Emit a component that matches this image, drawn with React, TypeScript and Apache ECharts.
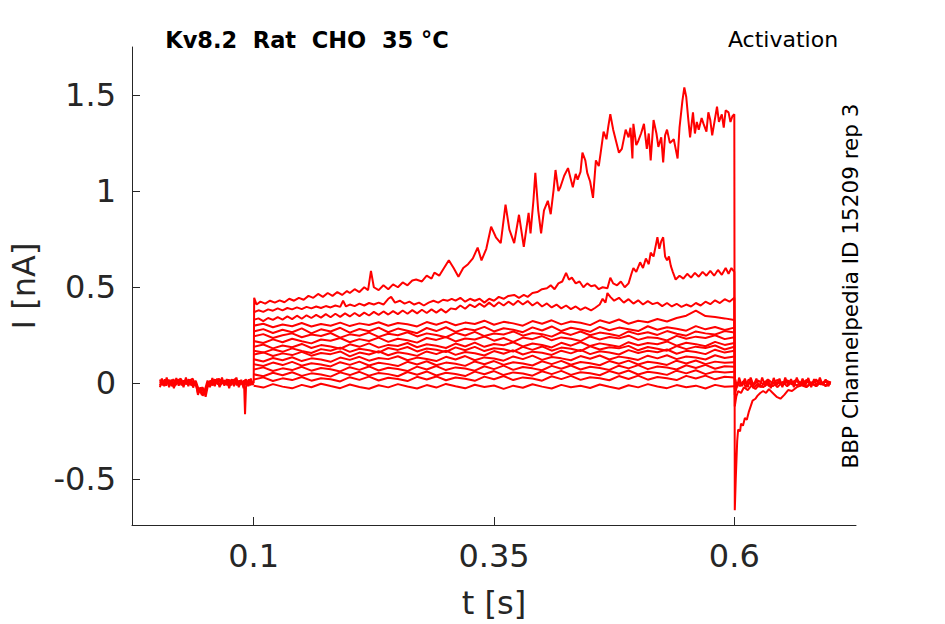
import { useEffect, useRef } from "react";
import * as echarts from "echarts";

// time grid (s) for the flat step traces
const stepTimes = [
  0.1, 0.11, 0.12, 0.13, 0.14, 0.15, 0.16, 0.17, 0.18, 0.19, 0.2, 0.21, 0.22, 0.23, 0.24, 0.25, 0.26,
  0.27, 0.28, 0.29, 0.3, 0.31, 0.32, 0.33, 0.34, 0.35, 0.36, 0.37, 0.38, 0.39, 0.4, 0.41, 0.42, 0.43,
  0.44, 0.45, 0.46, 0.47, 0.48, 0.49, 0.5, 0.51, 0.52, 0.53, 0.54, 0.55, 0.56, 0.57, 0.58, 0.59, 0.6,
];

const xTicks = [0.1, 0.35, 0.6];
const yTicks = [-0.5, 0, 0.5, 1, 1.5];

// holding period before the step (t, I in nA)
const pre1: [number, number][] = [
  [0.0025, 0.01], [0.005, -0.01], [0.0075, 0.02], [0.01, 0.0], [0.0125, 0.015], [0.015, -0.015],
  [0.0175, 0.01], [0.02, 0.02], [0.0225, -0.005], [0.025, 0.015], [0.0275, -0.01], [0.03, 0.01],
  [0.0325, 0.02], [0.035, -0.01], [0.0375, 0.005], [0.04, -0.01], [0.042, -0.05], [0.044, -0.03],
  [0.046, -0.06], [0.048, -0.04], [0.05, -0.07], [0.052, -0.02], [0.055, 0.01], [0.0575, -0.01],
  [0.06, 0.015], [0.0625, -0.005], [0.065, 0.02], [0.0675, 0.0], [0.07, 0.015], [0.0725, -0.01],
  [0.075, 0.01], [0.0775, 0.02], [0.08, -0.005], [0.0825, 0.015], [0.085, -0.01], [0.0875, 0.01],
  [0.09, 0.0], [0.091, -0.16], [0.092, -0.02], [0.094, 0.01], [0.0965, -0.01], [0.099, 0.01],
];
const pre2: [number, number][] = [
  [0.0025, -0.01], [0.005, 0.015], [0.0075, -0.005], [0.01, 0.02], [0.0125, -0.01], [0.015, 0.01],
  [0.0175, -0.015], [0.02, 0.005], [0.0225, 0.02], [0.025, -0.01], [0.0275, 0.015], [0.03, -0.005],
  [0.0325, 0.01], [0.035, 0.02], [0.0375, -0.01], [0.04, 0.01], [0.0425, -0.03], [0.045, -0.05],
  [0.0475, -0.025], [0.05, -0.045], [0.0525, -0.005], [0.055, 0.015], [0.0575, -0.005], [0.06, 0.02],
  [0.0625, 0.0], [0.065, -0.015], [0.0675, 0.015], [0.07, -0.005], [0.0725, 0.02], [0.075, -0.01],
  [0.0775, 0.005], [0.08, 0.02], [0.0825, -0.01], [0.085, 0.015], [0.0875, -0.005], [0.09, 0.015],
  [0.0925, -0.01], [0.095, 0.02], [0.0975, -0.005], [0.1, 0.0],
];
const pre3: [number, number][] = [
  [0.0025, 0.02], [0.004, -0.005], [0.0065, 0.012], [0.009, -0.012], [0.0115, 0.018], [0.014, 0.0],
  [0.0165, 0.022], [0.019, -0.008], [0.0215, 0.012], [0.024, 0.025], [0.0265, -0.005], [0.029, 0.018],
  [0.0315, 0.0], [0.034, 0.015], [0.0365, 0.025], [0.039, -0.005], [0.0415, -0.02], [0.044, -0.04],
  [0.0465, -0.02], [0.049, -0.05], [0.0515, -0.01], [0.054, 0.01], [0.0565, -0.01], [0.059, 0.02],
  [0.0615, 0.005], [0.064, 0.025], [0.0665, -0.005], [0.069, 0.015], [0.0715, 0.0], [0.074, 0.02],
  [0.0765, -0.01], [0.079, 0.015], [0.0815, 0.025], [0.084, -0.005], [0.0865, 0.012], [0.089, -0.01],
  [0.0915, 0.02], [0.094, 0.005], [0.0965, 0.018], [0.099, -0.005],
];
const pre4: [number, number][] = [
  [0.0025, -0.02], [0.0045, 0.025], [0.007, -0.015], [0.0095, 0.03], [0.012, -0.02], [0.0145, 0.02],
  [0.017, -0.025], [0.0195, 0.028], [0.022, -0.012], [0.0245, 0.022], [0.027, -0.02], [0.0295, 0.03],
  [0.032, -0.015], [0.0345, 0.02], [0.037, -0.022], [0.0395, 0.015], [0.042, -0.06], [0.0445, -0.02],
  [0.047, -0.065], [0.0495, -0.03], [0.052, 0.015], [0.0545, -0.02], [0.057, 0.028], [0.0595, -0.015],
  [0.062, 0.025], [0.0645, -0.02], [0.067, 0.03], [0.0695, -0.012], [0.072, 0.022], [0.0745, -0.025],
  [0.077, 0.02], [0.0795, -0.015], [0.082, 0.03], [0.0845, -0.02], [0.087, 0.018], [0.0895, -0.025],
  [0.092, 0.02], [0.0945, -0.015], [0.097, 0.025], [0.0995, -0.01],
];

// largest trace: slow activation up to ~1.4 nA
const traceA: [number, number][] = [
  [0.1, 0.0], [0.1005, 0.445], [0.103, 0.41], [0.107, 0.425], [0.112, 0.415], [0.117, 0.43],
  [0.122, 0.42], [0.127, 0.432], [0.132, 0.422], [0.137, 0.44], [0.142, 0.43], [0.147, 0.445],
  [0.152, 0.435], [0.157, 0.455], [0.162, 0.445], [0.167, 0.465], [0.172, 0.45], [0.177, 0.47],
  [0.182, 0.455], [0.187, 0.475], [0.192, 0.46], [0.197, 0.48], [0.2, 0.47], [0.205, 0.49],
  [0.21, 0.475], [0.215, 0.5], [0.219, 0.485], [0.222, 0.585], [0.225, 0.5], [0.23, 0.485],
  [0.235, 0.51], [0.24, 0.49], [0.245, 0.515], [0.25, 0.5], [0.255, 0.525], [0.26, 0.51],
  [0.265, 0.535], [0.269, 0.54], [0.275, 0.53], [0.28, 0.56], [0.285, 0.545], [0.288, 0.576],
  [0.293, 0.56], [0.298, 0.6], [0.303, 0.64], [0.308, 0.6], [0.313, 0.555], [0.318, 0.6],
  [0.323, 0.62], [0.328, 0.65], [0.333, 0.706], [0.337, 0.64], [0.342, 0.7], [0.347, 0.815],
  [0.352, 0.76], [0.357, 0.73], [0.362, 0.93], [0.366, 0.8], [0.371, 0.73], [0.376, 0.877],
  [0.381, 0.71], [0.386, 0.887], [0.388, 0.78], [0.391, 0.95], [0.393, 1.095], [0.396, 0.9],
  [0.399, 0.78], [0.402, 0.9], [0.406, 0.95], [0.409, 0.88], [0.412, 1.007], [0.414, 1.11],
  [0.417, 1.0], [0.419, 1.02], [0.423, 1.08], [0.427, 1.12], [0.43, 1.06], [0.432, 1.02],
  [0.435, 1.09], [0.437, 1.06], [0.44, 1.1], [0.442, 1.2], [0.445, 1.16], [0.447, 1.095],
  [0.45, 1.05], [0.453, 0.965], [0.456, 1.16], [0.459, 1.13], [0.461, 1.2], [0.464, 1.31],
  [0.467, 1.27], [0.469, 1.34], [0.471, 1.4], [0.474, 1.32], [0.477, 1.26], [0.48, 1.2],
  [0.483, 1.22], [0.487, 1.32], [0.49, 1.28], [0.492, 1.33], [0.494, 1.17], [0.495, 1.35],
  [0.498, 1.24], [0.5, 1.26], [0.503, 1.3], [0.506, 1.35], [0.509, 1.22], [0.511, 1.3],
  [0.513, 1.16], [0.516, 1.37], [0.519, 1.3], [0.521, 1.23], [0.524, 1.28], [0.526, 1.15],
  [0.528, 1.29], [0.53, 1.32], [0.533, 1.25], [0.537, 1.27], [0.539, 1.22], [0.541, 1.17],
  [0.543, 1.33], [0.546, 1.47], [0.548, 1.54], [0.55, 1.49], [0.552, 1.38], [0.554, 1.28],
  [0.557, 1.41], [0.559, 1.3], [0.561, 1.36], [0.563, 1.32], [0.566, 1.38], [0.568, 1.35],
  [0.571, 1.31], [0.573, 1.41], [0.575, 1.37], [0.577, 1.29], [0.58, 1.38], [0.582, 1.44],
  [0.584, 1.36], [0.587, 1.4], [0.589, 1.33], [0.591, 1.42], [0.594, 1.41], [0.596, 1.36],
  [0.598, 1.39], [0.6, 1.4],
];
const tailA: [number, number][] = [
  [0.6005, -0.66], [0.6015, -0.5], [0.603, -0.3], [0.604, -0.24], [0.606, -0.25], [0.607, -0.21],
  [0.609, -0.22], [0.611, -0.18], [0.613, -0.19], [0.615, -0.15], [0.617, -0.12], [0.619, -0.09],
  [0.622, -0.08], [0.624, -0.065], [0.627, -0.05], [0.63, -0.04], [0.633, -0.05], [0.636, -0.03],
  [0.64, -0.05], [0.644, -0.07], [0.648, -0.08], [0.652, -0.06], [0.656, -0.035], [0.66, -0.04],
  [0.665, -0.02], [0.67, -0.01], [0.675, -0.02], [0.68, 0.0], [0.685, -0.015], [0.69, 0.005],
  [0.695, -0.01], [0.7, 0.0],
];

// second trace with the bump near 0.52 s
const traceB: [number, number][] = [
  [0.1, 0.37], [0.105, 0.38], [0.11, 0.372], [0.115, 0.385], [0.12, 0.378], [0.125, 0.39],
  [0.13, 0.38], [0.135, 0.392], [0.14, 0.385], [0.145, 0.395], [0.15, 0.386], [0.155, 0.398],
  [0.16, 0.39], [0.165, 0.4], [0.17, 0.392], [0.175, 0.402], [0.18, 0.395], [0.185, 0.405],
  [0.19, 0.398], [0.193, 0.43], [0.196, 0.4], [0.2, 0.41], [0.205, 0.402], [0.21, 0.415],
  [0.215, 0.405], [0.22, 0.418], [0.225, 0.41], [0.23, 0.42], [0.235, 0.41], [0.24, 0.44],
  [0.243, 0.45], [0.247, 0.42], [0.252, 0.43], [0.257, 0.415], [0.262, 0.425], [0.267, 0.41],
  [0.272, 0.42], [0.277, 0.405], [0.282, 0.42], [0.287, 0.43], [0.292, 0.42], [0.297, 0.435],
  [0.302, 0.43], [0.306, 0.44], [0.31, 0.43], [0.315, 0.445], [0.32, 0.425], [0.325, 0.44],
  [0.33, 0.43], [0.335, 0.44], [0.34, 0.42], [0.345, 0.44], [0.35, 0.43], [0.355, 0.45],
  [0.36, 0.44], [0.365, 0.455], [0.371, 0.46], [0.376, 0.445], [0.381, 0.46], [0.385, 0.45],
  [0.39, 0.47], [0.395, 0.475], [0.4, 0.49], [0.405, 0.495], [0.409, 0.51], [0.413, 0.49],
  [0.417, 0.52], [0.421, 0.53], [0.425, 0.575], [0.428, 0.54], [0.431, 0.55], [0.435, 0.52],
  [0.439, 0.53], [0.443, 0.5], [0.447, 0.52], [0.451, 0.505], [0.455, 0.51], [0.459, 0.49],
  [0.463, 0.5], [0.468, 0.495], [0.471, 0.55], [0.474, 0.52], [0.478, 0.51], [0.482, 0.53],
  [0.486, 0.5], [0.49, 0.52], [0.493, 0.57], [0.495, 0.6], [0.498, 0.58], [0.502, 0.63],
  [0.505, 0.6], [0.508, 0.65], [0.511, 0.62], [0.513, 0.68], [0.516, 0.66], [0.518, 0.71],
  [0.52, 0.76], [0.522, 0.7], [0.524, 0.74], [0.526, 0.76], [0.528, 0.66], [0.53, 0.64],
  [0.532, 0.66], [0.534, 0.61], [0.536, 0.58], [0.539, 0.54], [0.543, 0.56], [0.547, 0.545],
  [0.551, 0.57], [0.555, 0.55], [0.559, 0.575], [0.563, 0.555], [0.567, 0.58], [0.571, 0.56],
  [0.575, 0.585], [0.579, 0.56], [0.583, 0.59], [0.587, 0.565], [0.591, 0.6], [0.594, 0.57],
  [0.597, 0.6], [0.6, 0.58],
];
const tailB: [number, number][] = [
  [0.6005, -0.12], [0.602, -0.07], [0.604, -0.04], [0.607, -0.05], [0.61, -0.02], [0.614, -0.035],
  [0.618, -0.01], [0.622, -0.03], [0.626, -0.005], [0.63, -0.02], [0.635, 0.0], [0.64, -0.015],
  [0.645, 0.005], [0.65, -0.01], [0.655, 0.01], [0.66, -0.005], [0.665, 0.012], [0.67, -0.008],
  [0.675, 0.01], [0.68, -0.005], [0.685, 0.012], [0.69, -0.006], [0.695, 0.008], [0.7, 0.0],
];

const traceC: [number, number][] = [
  [0.1, 0.33], [0.105, 0.338], [0.11, 0.324], [0.115, 0.34], [0.12, 0.33], [0.125, 0.345],
  [0.13, 0.332], [0.135, 0.348], [0.14, 0.334], [0.145, 0.352], [0.15, 0.336], [0.155, 0.354],
  [0.16, 0.34], [0.165, 0.356], [0.17, 0.342], [0.175, 0.36], [0.18, 0.344], [0.185, 0.362],
  [0.19, 0.346], [0.195, 0.364], [0.2, 0.348], [0.205, 0.366], [0.21, 0.35], [0.215, 0.368],
  [0.22, 0.353], [0.225, 0.372], [0.23, 0.356], [0.235, 0.374], [0.24, 0.358], [0.245, 0.376],
  [0.25, 0.36], [0.255, 0.379], [0.26, 0.362], [0.265, 0.381], [0.27, 0.364], [0.275, 0.383],
  [0.28, 0.366], [0.285, 0.385], [0.29, 0.368], [0.295, 0.386], [0.3, 0.368], [0.305, 0.39],
  [0.31, 0.385], [0.315, 0.405], [0.32, 0.388], [0.325, 0.41], [0.33, 0.396], [0.335, 0.415],
  [0.34, 0.398], [0.345, 0.42], [0.35, 0.4], [0.355, 0.422], [0.36, 0.405], [0.365, 0.425],
  [0.37, 0.408], [0.375, 0.43], [0.38, 0.41], [0.385, 0.428], [0.39, 0.405], [0.395, 0.422],
  [0.4, 0.4], [0.405, 0.416], [0.41, 0.395], [0.415, 0.41], [0.42, 0.39], [0.425, 0.405],
  [0.43, 0.386], [0.435, 0.4], [0.44, 0.382], [0.445, 0.395], [0.451, 0.38], [0.455, 0.392],
  [0.46, 0.41], [0.463, 0.44], [0.466, 0.42], [0.468, 0.47], [0.471, 0.45], [0.475, 0.43],
  [0.48, 0.445], [0.485, 0.42], [0.49, 0.438], [0.495, 0.415], [0.5, 0.432], [0.505, 0.41],
  [0.51, 0.428], [0.515, 0.412], [0.52, 0.42], [0.525, 0.402], [0.53, 0.418], [0.535, 0.4],
  [0.54, 0.414], [0.545, 0.398], [0.55, 0.41], [0.555, 0.4], [0.56, 0.418], [0.565, 0.405],
  [0.57, 0.425], [0.575, 0.412], [0.58, 0.432], [0.585, 0.418], [0.59, 0.438], [0.595, 0.425],
  [0.6, 0.445],
];
const tailC: [number, number][] = [
  [0.6005, -0.06], [0.6025, -0.02], [0.605, 0.01], [0.6075, -0.01], [0.61, 0.015], [0.6125, -0.005],
  [0.615, 0.02], [0.62, -0.01], [0.625, 0.015], [0.63, -0.005], [0.635, 0.02], [0.64, 0.0],
  [0.645, 0.018], [0.65, -0.008], [0.655, 0.015], [0.66, 0.005], [0.665, 0.02], [0.67, -0.005],
  [0.675, 0.018], [0.68, 0.0], [0.685, 0.02], [0.69, -0.004], [0.695, 0.015], [0.7, 0.005],
];

// remaining traces on the stepTimes grid, from the 4th largest down
const traceD = [
  0.3, 0.31, 0.292, 0.306, 0.297, 0.314, 0.296, 0.309, 0.3, 0.316, 0.298, 0.312, 0.304, 0.318, 0.3,
  0.314, 0.307, 0.296, 0.319, 0.305, 0.321, 0.302, 0.316, 0.309, 0.326, 0.305, 0.32, 0.312, 0.3, 0.324,
  0.31, 0.328, 0.307, 0.322, 0.315, 0.303, 0.328, 0.314, 0.332, 0.31, 0.326, 0.318, 0.335, 0.322, 0.34,
  0.352, 0.378, 0.35, 0.345, 0.338, 0.33,
];
const tailD: [number, number][] = [
  [0.6005, -0.03], [0.603, 0.005], [0.606, -0.015], [0.609, 0.01], [0.612, -0.02], [0.616, 0.005],
  [0.62, -0.025], [0.624, -0.005], [0.628, -0.02], [0.632, 0.01], [0.636, -0.015], [0.64, 0.005],
  [0.645, -0.02], [0.65, 0.008], [0.655, -0.015], [0.66, 0.01], [0.665, -0.012], [0.67, 0.008],
  [0.675, -0.018], [0.68, 0.006], [0.685, -0.012], [0.69, 0.01], [0.695, -0.015], [0.7, 0.0],
];
const tailE: [number, number][] = [
  [0.601, 0.02], [0.603, -0.02], [0.605, 0.03], [0.608, -0.015], [0.611, 0.025], [0.614, -0.02],
  [0.617, 0.03], [0.62, -0.01], [0.623, 0.025], [0.626, -0.02], [0.629, 0.03], [0.632, -0.015],
  [0.635, 0.02], [0.638, -0.025], [0.641, 0.028], [0.644, -0.01], [0.647, 0.025], [0.65, -0.02],
  [0.653, 0.03], [0.656, -0.012], [0.659, 0.022], [0.662, -0.02], [0.665, 0.03], [0.668, -0.015],
  [0.671, 0.025], [0.674, -0.01], [0.677, 0.028], [0.68, -0.02], [0.683, 0.022], [0.686, -0.015],
  [0.689, 0.03], [0.692, -0.01], [0.695, 0.02], [0.698, -0.015], [0.7, 0.01],
];
const traceE = [
  0.27, 0.282, 0.262, 0.279, 0.266, 0.286, 0.26, 0.281, 0.27, 0.289, 0.264, 0.283, 0.271, 0.29, 0.266,
  0.285, 0.274, 0.261, 0.288, 0.272, 0.292, 0.268, 0.284, 0.276, 0.294, 0.27, 0.287, 0.279, 0.266, 0.291,
  0.275, 0.296, 0.272, 0.289, 0.28, 0.268, 0.294, 0.276, 0.29, 0.282, 0.272, 0.297, 0.279, 0.292, 0.284,
  0.274, 0.298, 0.281, 0.293, 0.278, 0.29,
];
const traceF = [
  0.245, 0.256, 0.236, 0.25, 0.26, 0.24, 0.254, 0.246, 0.262, 0.238, 0.255, 0.248, 0.264, 0.242, 0.258,
  0.25, 0.266, 0.244, 0.26, 0.252, 0.24, 0.263, 0.249, 0.268, 0.246, 0.259, 0.254, 0.27, 0.248, 0.262,
  0.256, 0.243, 0.266, 0.252, 0.27, 0.25, 0.264, 0.257, 0.246, 0.27, 0.255, 0.266, 0.252, 0.272, 0.258,
  0.248, 0.27, 0.26, 0.254, 0.272, 0.264,
];
const traceG = [
  0.22, 0.21, 0.229, 0.214, 0.232, 0.219, 0.208, 0.228, 0.222, 0.236, 0.214, 0.23, 0.22, 0.238, 0.216,
  0.232, 0.224, 0.212, 0.236, 0.226, 0.241, 0.218, 0.233, 0.228, 0.244, 0.222, 0.236, 0.216, 0.238, 0.23,
  0.246, 0.224, 0.239, 0.232, 0.22, 0.244, 0.228, 0.241, 0.234, 0.248, 0.226, 0.24, 0.236, 0.223, 0.247,
  0.232, 0.243, 0.236, 0.25, 0.23, 0.24,
];
const traceH = [
  0.19, 0.202, 0.182, 0.197, 0.188, 0.205, 0.184, 0.199, 0.192, 0.18, 0.203, 0.19, 0.208, 0.186, 0.2,
  0.194, 0.21, 0.188, 0.203, 0.196, 0.184, 0.207, 0.192, 0.212, 0.19, 0.205, 0.198, 0.214, 0.192, 0.207,
  0.2, 0.187, 0.211, 0.196, 0.215, 0.194, 0.208, 0.2, 0.19, 0.214, 0.198, 0.21, 0.203, 0.218, 0.196,
  0.211, 0.204, 0.193, 0.216, 0.2, 0.21,
];
const traceI = [
  0.17, 0.16, 0.177, 0.164, 0.182, 0.168, 0.158, 0.178, 0.17, 0.186, 0.164, 0.18, 0.172, 0.16, 0.184,
  0.174, 0.189, 0.166, 0.181, 0.175, 0.163, 0.187, 0.172, 0.19, 0.168, 0.183, 0.177, 0.165, 0.19, 0.174,
  0.192, 0.17, 0.186, 0.18, 0.168, 0.193, 0.176, 0.188, 0.182, 0.195, 0.172, 0.189, 0.18, 0.17, 0.194,
  0.178, 0.191, 0.184, 0.197, 0.176, 0.19,
];
const traceJ = [
  0.15, 0.161, 0.142, 0.156, 0.147, 0.164, 0.144, 0.158, 0.152, 0.166, 0.14, 0.16, 0.15, 0.167, 0.146,
  0.162, 0.154, 0.143, 0.166, 0.152, 0.17, 0.148, 0.163, 0.157, 0.145, 0.168, 0.154, 0.172, 0.15, 0.165,
  0.159, 0.148, 0.17, 0.156, 0.174, 0.152, 0.167, 0.16, 0.15, 0.173, 0.158, 0.17, 0.162, 0.176, 0.154,
  0.169, 0.163, 0.152, 0.175, 0.16, 0.17,
];
const traceK = [
  0.125, 0.114, 0.132, 0.12, 0.136, 0.116, 0.13, 0.124, 0.112, 0.134, 0.122, 0.138, 0.118, 0.132, 0.126,
  0.141, 0.12, 0.134, 0.127, 0.116, 0.138, 0.124, 0.142, 0.12, 0.135, 0.129, 0.118, 0.14, 0.126, 0.144,
  0.122, 0.137, 0.13, 0.12, 0.142, 0.128, 0.145, 0.124, 0.139, 0.132, 0.122, 0.144, 0.13, 0.146, 0.126,
  0.14, 0.134, 0.124, 0.146, 0.132, 0.14,
];
const traceL = [
  0.1, 0.09, 0.108, 0.095, 0.112, 0.092, 0.105, 0.098, 0.088, 0.11, 0.096, 0.113, 0.093, 0.107, 0.1,
  0.09, 0.112, 0.098, 0.115, 0.094, 0.108, 0.102, 0.091, 0.114, 0.099, 0.116, 0.096, 0.11, 0.103, 0.093,
  0.115, 0.1, 0.117, 0.097, 0.111, 0.105, 0.094, 0.116, 0.102, 0.118, 0.098, 0.112, 0.106, 0.096, 0.118,
  0.103, 0.119, 0.1, 0.113, 0.107, 0.11,
];
const traceM = [
  0.072, 0.083, 0.064, 0.078, 0.069, 0.086, 0.066, 0.08, 0.073, 0.062, 0.084, 0.07, 0.088, 0.067, 0.081,
  0.075, 0.064, 0.087, 0.072, 0.09, 0.069, 0.083, 0.077, 0.066, 0.089, 0.074, 0.092, 0.07, 0.085, 0.078,
  0.068, 0.091, 0.076, 0.093, 0.072, 0.086, 0.08, 0.07, 0.092, 0.078, 0.095, 0.074, 0.088, 0.082, 0.072,
  0.094, 0.08, 0.096, 0.076, 0.089, 0.087,
];
const traceN = [
  0.047, 0.037, 0.055, 0.042, 0.058, 0.039, 0.052, 0.046, 0.035, 0.057, 0.043, 0.06, 0.04, 0.054, 0.048,
  0.037, 0.059, 0.045, 0.062, 0.041, 0.055, 0.049, 0.038, 0.061, 0.047, 0.064, 0.043, 0.057, 0.051, 0.04,
  0.063, 0.048, 0.065, 0.044, 0.058, 0.052, 0.042, 0.064, 0.05, 0.067, 0.046, 0.06, 0.054, 0.044, 0.066,
  0.052, 0.068, 0.048, 0.062, 0.056, 0.06,
];
const traceO = [
  0.02, 0.031, 0.012, 0.026, 0.017, 0.033, 0.014, 0.027, 0.021, 0.01, 0.032, 0.018, 0.035, 0.015, 0.029,
  0.023, 0.012, 0.034, 0.02, 0.036, 0.016, 0.03, 0.024, 0.013, 0.035, 0.021, 0.038, 0.017, 0.031, 0.025,
  0.014, 0.037, 0.022, 0.039, 0.018, 0.032, 0.026, 0.016, 0.038, 0.023, 0.04, 0.019, 0.033, 0.027, 0.017,
  0.039, 0.025, 0.04, 0.021, 0.034, 0.03,
];
const traceP = [
  -0.012, -0.022, -0.004, -0.017, -0.026, -0.008, -0.02, -0.002, -0.014, -0.025, -0.006, -0.019, -0.028,
  -0.01, -0.021, -0.004, -0.016, -0.027, -0.009, -0.022, -0.003, -0.015, -0.026, -0.007, -0.019, -0.011,
  -0.029, -0.012, -0.023, -0.005, -0.017, -0.027, -0.008, -0.02, -0.013, -0.024, -0.006, -0.018, -0.028,
  -0.01, -0.021, -0.004, -0.016, -0.025, -0.009, -0.02, -0.012, -0.027, -0.008, -0.018, -0.015,
];

const FONT = "DejaVu Sans";
const AXIS_COLOR = "#262626";

const onGrid = (vals: number[]) => stepTimes.map((t, i) => [t, vals[i]]);

export default function App() {
  const chartRef = useRef<HTMLDivElement>(null);

  useEffect(() => {
    if (!chartRef.current) return;
    const chart = echarts.init(chartRef.current, null, { renderer: "svg" });

    const traces = [
      pre1,
      pre2,
      pre3,
      pre4,
      [...traceA, ...tailA],
      [...traceB, ...tailB],
      [...traceC, ...tailC],
      [...onGrid(traceD), ...tailD],
      tailE,
      onGrid(traceE),
      onGrid(traceF),
      onGrid(traceG),
      onGrid(traceH),
      onGrid(traceI),
      onGrid(traceJ),
      onGrid(traceK),
      onGrid(traceL),
      onGrid(traceM),
      onGrid(traceN),
      onGrid(traceO),
      onGrid(traceP),
    ];

    chart.setOption({
      animation: false,
      backgroundColor: "#ffffff",
      grid: { left: 129, right: 89, top: 47, bottom: 98 },
      xAxis: {
        type: "value",
        min: -0.0266,
        max: 0.7266,
        name: "t [s]",
        nameLocation: "middle",
        nameGap: 62,
        nameTextStyle: { fontFamily: FONT, fontSize: 32, color: AXIS_COLOR },
        axisLine: { onZero: false, lineStyle: { color: AXIS_COLOR, width: 1 } },
        axisTick: { inside: true, length: 8, customValues: xTicks, lineStyle: { color: AXIS_COLOR } },
        axisLabel: {
          customValues: xTicks,
          fontFamily: FONT,
          fontSize: 32,
          color: AXIS_COLOR,
          margin: 15,
        },
        splitLine: { show: false },
      },
      yAxis: {
        type: "value",
        min: -0.737,
        max: 1.75,
        name: "I [nA]",
        nameLocation: "middle",
        nameRotate: 90,
        nameGap: 92,
        nameTextStyle: { fontFamily: FONT, fontSize: 32, color: AXIS_COLOR },
        axisLine: { show: true, onZero: false, lineStyle: { color: AXIS_COLOR, width: 1 } },
        axisTick: { show: true, inside: true, length: 8, customValues: yTicks, lineStyle: { color: AXIS_COLOR } },
        axisLabel: {
          customValues: yTicks,
          fontFamily: FONT,
          fontSize: 32,
          color: AXIS_COLOR,
          margin: 16,
        },
        splitLine: { show: false },
      },
      graphic: [
        {
          type: "text",
          x: 307,
          y: 40,
          style: {
            text: "Kv8.2  Rat  CHO  35 °C",
            font: `bold 22.5px "${FONT}"`,
            fill: "#000000",
            textAlign: "center",
            textVerticalAlign: "middle",
          },
        },
        {
          type: "text",
          x: 783,
          y: 39,
          style: {
            text: "Activation",
            font: `22px "${FONT}"`,
            fill: "#000000",
            textAlign: "center",
            textVerticalAlign: "middle",
          },
        },
        {
          type: "text",
          x: 850,
          y: 286,
          rotation: Math.PI / 2,
          style: {
            text: "BBP Channelpedia ID 15209 rep 3",
            font: `21.5px "${FONT}"`,
            fill: "#000000",
            textAlign: "center",
            textVerticalAlign: "middle",
          },
        },
      ],
      series: traces.map((data, i) => ({
        name: `trace${i}`,
        type: "line",
        data,
        showSymbol: false,
        symbol: "none",
        silent: true,
        lineStyle: { color: "#ff0000", width: 2 },
      })),
    });

    return () => {
      chart.dispose();
    };
  }, []);

  return (
    <div
      ref={chartRef}
      style={{ position: "fixed", left: 0, top: 0, width: 945, height: 624, background: "#fff" }}
    />
  );
}
